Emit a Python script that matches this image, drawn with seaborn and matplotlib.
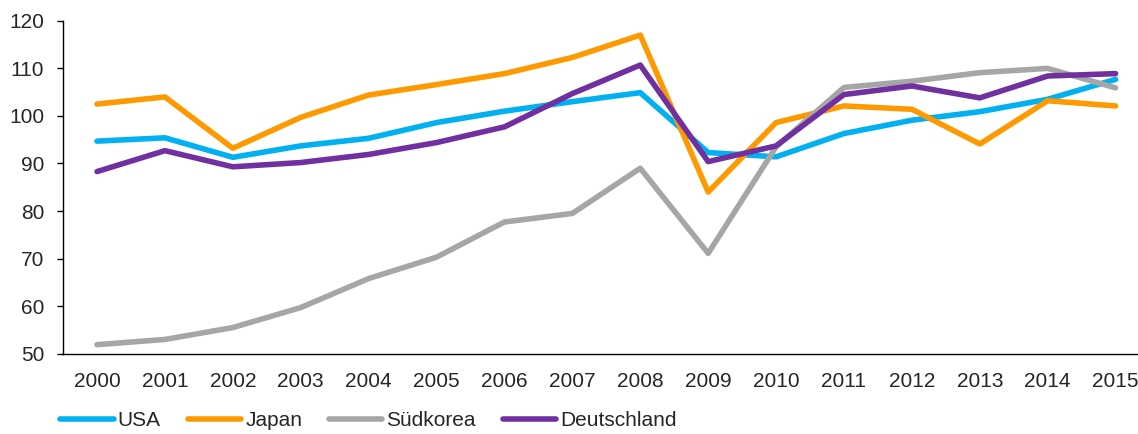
import pandas as pd
import matplotlib.pyplot as plt
import seaborn as sns

years = list(range(2000, 2016))
usa = [94.7, 95.4, 91.3, 93.7, 95.3, 98.6, 101.0, 103.0, 104.9, 92.3, 91.4, 96.3, 99.1, 100.9, 103.5, 107.7]
japan = [102.5, 104.0, 93.2, 99.7, 104.4, 106.6, 108.9, 112.3, 117.0, 84.0, 98.6, 102.1, 101.4, 94.1, 103.2, 102.1]
suedkorea = [51.9, 53.0, 55.5, 59.7, 65.8, 70.3, 77.7, 79.5, 89.0, 71.1, 93.5, 106.0, 107.3, 109.1, 110.0, 105.9]
deutschland = [88.3, 92.7, 89.3, 90.2, 91.9, 94.4, 97.7, 104.7, 110.7, 90.4, 93.7, 104.5, 106.3, 103.8, 108.4, 108.9]

series = {'USA': usa, 'Japan': japan, 'Südkorea': suedkorea, 'Deutschland': deutschland}
colors = {'USA': '#00B0F0', 'Japan': '#FF9900', 'Südkorea': '#A6A6A6', 'Deutschland': '#7030A0'}

df = pd.DataFrame([
    {'Jahr': y, 'Wert': v, 'Land': land}
    for land, vals in series.items()
    for y, v in zip(years, vals)
])

sns.set_style('white')
plt.rcParams['font.family'] = ['Liberation Sans', 'DejaVu Sans']

fig = plt.figure(figsize=(11.38, 4.34), dpi=100)
ax = fig.add_axes([0.0554, 0.185, 0.9446, 0.767])

sns.lineplot(data=df, x='Jahr', y='Wert', hue='Land', palette=colors,
             linewidth=4, ax=ax, legend=False)

ax.set_xlim(1999.5, 2015.33)
ax.set_ylim(50, 120)
ax.set_xticks(years)
ax.set_xticklabels([str(y) for y in years])
ax.set_yticks(range(50, 121, 10))
ax.set_xlabel('')
ax.set_ylabel('')

for s in ['top', 'right']:
    ax.spines[s].set_visible(False)
for s in ['left', 'bottom']:
    ax.spines[s].set_color('black')
    ax.spines[s].set_linewidth(1.0)

ax.tick_params(axis='y', direction='out', length=4.5, width=1, color='black',
               labelsize=15, pad=9, left=True)
ax.tick_params(axis='x', length=0, labelsize=15, pad=13)

handles = [plt.Line2D([], [], color=colors[k], linewidth=4, solid_capstyle='round') for k in series]
fig.legend(handles, list(series.keys()), loc='center left', bbox_to_anchor=(0.044, 0.03),
           ncol=4, frameon=False, fontsize=15, borderpad=0, handlelength=2.55,
           handletextpad=0.2, columnspacing=1.3)

plt.savefig('out.png', dpi=100)
plt.close()
